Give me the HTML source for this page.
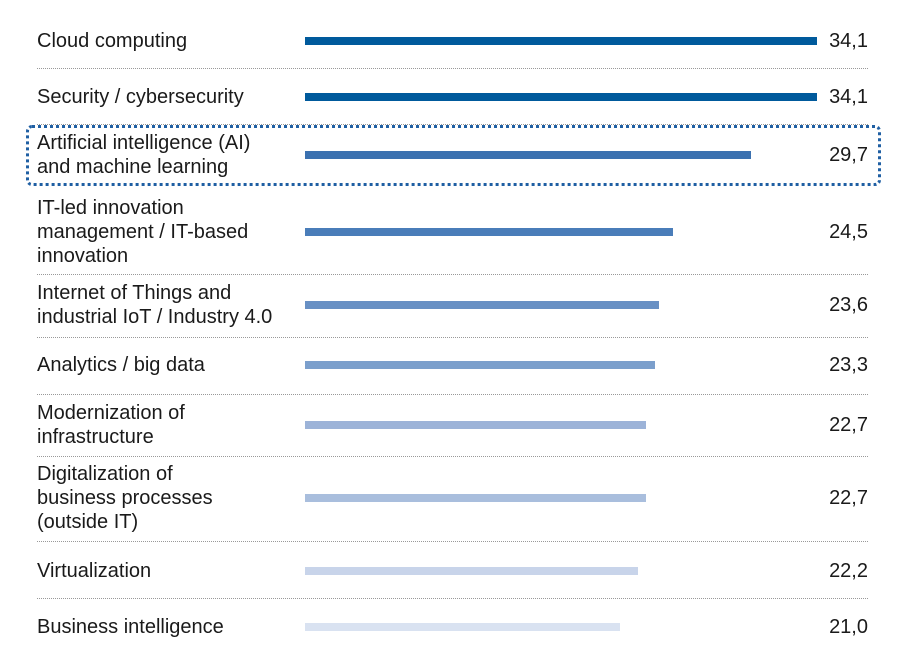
<!DOCTYPE html>
<html><head><meta charset="utf-8"><style>
body{margin:0;width:906px;height:670px;background:#fff;position:relative;overflow:hidden;font-family:"Liberation Sans",sans-serif;color:#1a1a1a}
.lbl{position:absolute;left:37px;font-size:20px;line-height:24px}
.val{position:absolute;right:38px;font-size:20px;line-height:24px;text-align:right}
.bar{position:absolute;height:8px}
.sep{position:absolute;left:37px;width:831px;border-top:1.5px dotted #999}
#hl{position:absolute;left:26px;top:125px;width:855px;height:61px;border:3px dotted #1f5fa3;border-radius:6px;box-sizing:border-box}
</style></head><body>
<div id="hl"></div>
<script>
const categories=["Cloud computing","Security / cybersecurity","Artificial intelligence (AI)<br>and machine learning","IT-led innovation<br>management / IT-based<br>innovation","Internet of Things and<br>industrial IoT / Industry 4.0","Analytics / big data","Modernization of<br>infrastructure","Digitalization of<br>business processes<br>(outside IT)","Virtualization","Business intelligence"];
const values=[34.1,34.1,29.7,24.5,23.6,23.3,22.7,22.7,22.2,21.0];
const valueLabels=["34,1","34,1","29,7","24,5","23,6","23,3","22,7","22,7","22,2","21,0"];
const rowCenters=[41,97,155,232,305,365,425,498,571,627];
const seps=[68,124,274,337,394,456,541,598];
const colors=["#005a9c","#005a9c","#3b71b0","#4a7db9","#6890c4","#7b9fcc","#9cb3d8","#a9bedd","#c8d4ea","#d9e2f1"];
const x0=305, scale=512/34.1;
seps.forEach(y=>{const s=document.createElement('div');s.className='sep';s.style.top=y+'px';


document.body.appendChild(s);});
categories.forEach((c,i)=>{
 const lines=c.split('<br>').length;
 const l=document.createElement('div');l.className='lbl';l.innerHTML=c;l.style.top=(rowCenters[i]-lines*12)+'px';
 
 
 document.body.appendChild(l);
 const b=document.createElement('div');b.className='bar';b.style.left=x0+'px';b.style.top=(rowCenters[i]-4)+'px';b.style.width=(values[i]*scale)+'px';b.style.background=colors[i];
 
 
 document.body.appendChild(b);
 const v=document.createElement('div');v.className='val';v.textContent=valueLabels[i];v.style.top=(rowCenters[i]-12)+'px';
 
 
 document.body.appendChild(v);
});
</script>
</body></html>
